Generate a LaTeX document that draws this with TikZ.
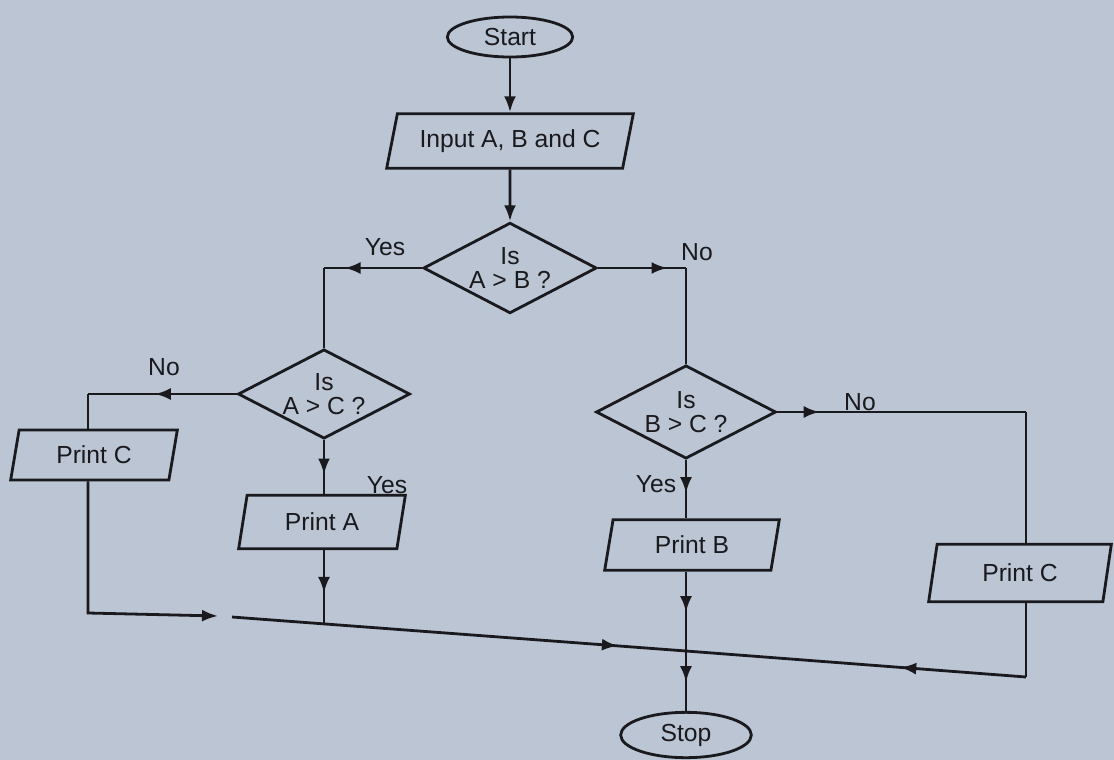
\documentclass[tikz,border=0pt]{standalone}
\usepackage{fontspec}
\setmainfont{Liberation Sans}
\usetikzlibrary{arrows.meta,positioning,shapes.geometric,decorations.markings}
\definecolor{pagebg}{RGB}{187,197,211}
\definecolor{ink}{RGB}{25,25,30}
\tikzset{
  flowtxt/.style={font=\fontsize{18.5}{17.5}\selectfont,text=ink},
  terminal/.style={ellipse,draw=ink,line width=2.1pt,inner sep=0pt,flowtxt},
  io/.style={trapezium,trapezium left angle=65,trapezium right angle=115,
             trapezium stretches body,draw=ink,line width=2.1pt,inner sep=0pt,flowtxt},
  decision/.style={diamond,aspect=2,draw=ink,line width=2.1pt,inner sep=0pt,
                   align=center,flowtxt},
  flow/.style={draw=ink,line width=2.1pt},
  into/.style={flow,-{Latex[length=12pt,width=9pt]}},
  midarr/.style={flow,postaction={decorate},decoration={markings,
      mark=at position #1 with {\arrow{Latex[length=12pt,width=9pt]}}}},
  lbl/.style={flowtxt,inner sep=1pt},
}

\begin{document}
\begin{tikzpicture}[x=0.75pt,y=-0.75pt]
  \fill[pagebg] (0,0) rectangle (1114,760);
  % blocks
  \node[terminal,minimum width=94pt,minimum height=30pt] (start) at (510,37) {Start};
  \node[io,minimum width=185pt,minimum height=41pt] (input) at (510,141) {Input A, B and C};
  \node[decision,minimum width=130pt,minimum height=68pt] (ab) at (510,268) {Is\\A > B ?};
  \node[decision,minimum width=129pt,minimum height=67pt] (ac) at (324,394) {Is\\A > C ?};
  \node[decision,minimum width=135pt,minimum height=70pt] (bc) at (686,412) {Is\\B > C ?};
  \node[io,minimum width=125pt,minimum height=37.5pt] (pcl) at (94,455) {Print C};
  \node[io,minimum width=125pt,minimum height=40pt] (pa) at (322,522) {Print A};
  \node[io,minimum width=131pt,minimum height=38pt] (pb) at (692,545) {Print B};
  \node[io,minimum width=137pt,minimum height=43pt] (pcr) at (1020,573) {Print C};
  \node[terminal,minimum width=98pt,minimum height=34pt] (stop) at (686,735) {Stop};
  % branch labels
  \node[lbl] (yab) at (385,247) {Yes};
  \node[lbl] (nab) at (697,252) {No};
  \node[lbl] (nac) at (164,367) {No};
  \node[lbl] (yac) at (387,485) {Yes};
  \node[lbl] (nbc) at (860,402) {No};
  \node[lbl] (ybc) at (656,484) {Yes};
  % corners and the joining line
  \coordinate (yesA) at (324,268);
  \coordinate (noA) at (686,268);
  \coordinate (noL) at (88,394);
  \coordinate (cornL) at (88,613);
  \coordinate (gapL) at (218,616);
  \coordinate (gapR) at (232,617);
  \coordinate (ma) at (324,624);
  \coordinate (mj) at (686,651);
  \coordinate (noR) at (1026,412);
  \coordinate (cornR) at (1026,677);
  % connectors
  \draw[into] (start) -- (input);
  \draw[into] (input) -- (ab);
  \draw[midarr=0.79] (ab.west) -- (yesA);
  \draw[flow] (yesA) -- (ac.north);
  \draw[midarr=0.79] (ab.east) -- (noA);
  \draw[flow] (noA) -- (bc.north);
  \draw[midarr=0.55] (ac.west) -- (noL);
  \draw[flow] (noL) -- (noL |- pcl.north);
  \draw[midarr=0.64] (ac.south) -- (ac.south |- pa.north);
  \draw[midarr=0.58] (ac.south |- pa.south) -- (ma);
  \draw[into] (noL |- pcl.south) -- (cornL) -- (gapL);
  \draw[midarr=0.85] (gapR) -- (mj);
  \draw[midarr=0.17] (bc.east) -- (noR);
  \draw[flow] (noR) -- (noR |- pcr.north);
  \draw[flow] (noR |- pcr.south) -- (cornR);
  \draw[midarr=0.37] (cornR) -- (mj);
  \draw[midarr=0.57] (bc.south) -- (bc.south |- pb.north);
  \draw[midarr=0.51] (bc.south |- pb.south) -- (mj);
  \draw[midarr=0.52] (mj) -- (stop.north);
\end{tikzpicture}
\end{document}
